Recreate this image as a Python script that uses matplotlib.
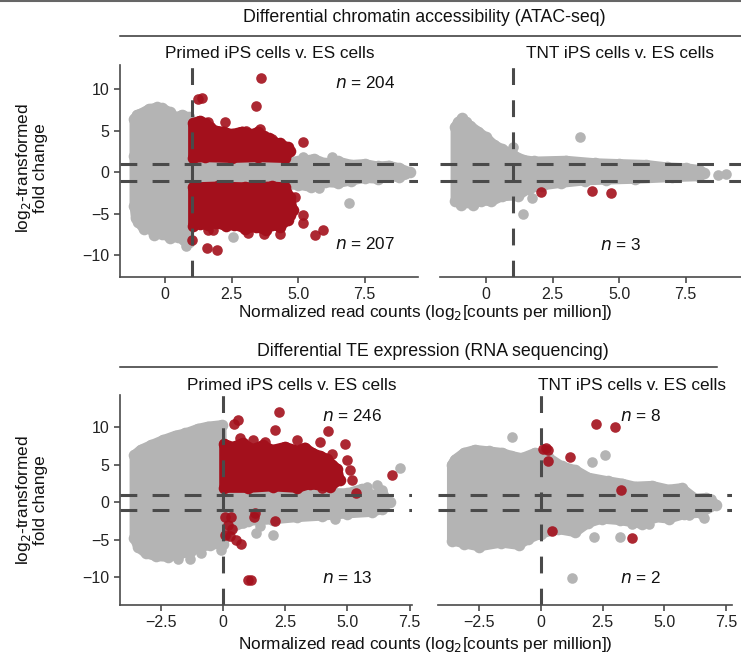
import numpy as np
import matplotlib.pyplot as plt
from matplotlib.lines import Line2D

plt.rcParams['font.family'] = ['Liberation Sans', 'DejaVu Sans']

# ---- datos ----
# arriba izquierda (ATAC, primed)
tl_gris_x = [-1.15, -1.05, -0.95, -0.6, -0.3, -0.1, 0.2, 0.4, 0.65, 0.9, 0.95, 2.0, 3.0, 4.0, 5.0,
             5.6, 6.0, 6.5, 7.0, 7.5, 8.0, 8.4, 8.8, 9.2,
             8.8, 8.4, 8.0, 7.5, 7.0, 6.5, 6.0, 5.5, 5.0, 4.0, 2.0, 0.95, 0.9, 0.7, 0.5, 0.2, -0.1,
             -0.4, -0.6, -0.8, -1.0, -1.1, -1.15, -1.15]
tl_gris_y = [6.4, 6.9, 7.0, 7.6, 7.8, 7.7, 7.2, 6.6, 6.9, 6.6, 1.6, 1.5, 1.7, 1.4, 1.3,
             1.6, 1.1, 1.3, 0.9, 1.0, 0.7, 0.8, 0.5, 0.0,
             -0.6, -0.5, -0.8, -0.7, -1.0, -1.3, -1.2, -1.8, -1.5, -1.6, -1.6, -1.6, -8.4, -8.2, -7.8,
             -7.9, -7.4, -7.5, -6.6, -6.8, -6.0, -5.5, -4.0, 2.0]
tl_pts_gris_x = [2.56, 5.2, 6.27, 6.9, 9.0, 0.8, 5.8]
tl_pts_gris_y = [-7.8, 1.8, 1.84, -3.7, -0.2, -8.9, -1.9]
tl_rojo_arriba_x = [1.05, 1.05, 1.3, 1.5, 1.7, 1.9, 2.2, 2.5, 2.9, 3.3, 3.5, 3.7, 3.9, 4.1, 4.3, 4.6,
                    4.7, 4.5, 3.5, 2.5, 1.5]
tl_rojo_arriba_y = [1.7, 5.9, 6.2, 5.9, 5.4, 5.0, 4.9, 4.6, 4.9, 4.6, 4.9, 4.3, 4.1, 3.6, 3.5, 3.0,
                    2.5, 1.7, 1.8, 1.7, 1.8]
tl_rojo_abajo_x = [1.05, 2.0, 3.0, 4.0, 4.5, 4.7, 4.8, 4.7, 4.6, 4.3, 4.0, 3.8, 3.4, 3.0, 2.6, 2.3,
                   1.9, 1.6, 1.3, 1.05]
tl_rojo_abajo_y = [-1.8, -1.7, -1.8, -1.7, -1.8, -3.0, -4.5, -5.2, -5.8, -6.6, -6.3, -7.0, -6.6, -6.8,
                   -6.3, -6.5, -6.1, -6.4, -6.2, -6.5]
tl_pts_rojo_x = [1.25, 1.4, 3.6, 3.4, 2.25, 3.05, 3.55, 5.2, 4.3, 4.0, 1.6, 2.8,
                 1.0, 1.6, 1.8, 1.57, 1.94, 5.2, 5.2, 5.64, 5.95, 3.1, 3.7, 4.3, 4.9]
tl_pts_rojo_y = [8.8, 8.9, 11.3, 8.0, 6.0, 5.0, 5.2, 3.6, 3.4, 4.0, 6.0, 4.9,
                 -8.2, -7.0, -7.0, -9.1, -9.3, -5.2, -6.1, -7.5, -7.0, -7.3, -7.4, -7.4, -3.0]

# arriba derecha (ATAC, TNT)
tr_gris_x = [-1.15, -1.15, -1.05, -0.9, -0.75, -0.6, -0.3, 0.0, 0.3, 0.6, 1.0, 1.4, 1.8, 3.0, 4.1,
             5.0, 6.0, 6.8, 7.5, 8.0, 8.2, 8.0, 7.0, 5.6, 4.5, 3.7, 2.8, 2.1, 1.6, 1.2, 0.6, 0.2,
             -0.2, -0.5, -0.7, -0.95]
tr_gris_y = [-3.4, 5.5, 6.0, 6.5, 6.0, 5.6, 4.9, 4.2, 3.3, 2.8, 2.1, 1.5, 1.3, 1.4, 1.1,
             1.0, 0.9, 0.6, 0.5, 0.3, -0.1, -0.5, -0.6, -0.8, -0.9, -1.0, -1.3, -1.6, -2.0, -2.8, -2.9,
             -3.5, -3.4, -3.9, -3.6, -3.9]
tr_pts_gris_x = [3.53, 1.72, 1.4, 8.7, 9.0, 1.0]
tr_pts_gris_y = [4.25, -3.1, -5.0, -0.3, -0.2, 3.0]
tr_pts_rojo_x = [2.07, 4.0, 4.7]
tr_pts_rojo_y = [-2.4, -2.2, -2.45]

# abajo izquierda (RNA, primed)
bl_gris_x = [-3.55, -3.55, -3.3, -2.9, -2.4, -1.9, -1.5, -1.0, -0.6, -0.05, 0.0, 1.0, 2.0, 3.0, 4.0,
             5.0, 5.6, 6.0, 6.4, 6.7, 6.4, 6.0, 5.0, 4.0, 3.0, 2.0, 1.0, 0.3, 0.0, -0.5, -0.9,
             -1.3, -1.8, -2.2, -2.7, -3.1, -3.4]
bl_gris_y = [-4.8, 6.3, 7.0, 7.6, 8.3, 8.9, 9.2, 9.8, 10.1, 10.3, 1.5, 1.6, 1.4, 1.6, 1.3,
             1.2, 1.8, 1.0, 1.2, 0.0, -0.9, -1.3, -1.5, -1.8, -2.0, -2.3, -2.5, -3.5, -5.5, -5.7, -6.0,
             -6.6, -7.0, -7.3, -7.2, -6.8, -6.0]
bl_pts_gris_x = [-0.87, -0.07, 1.34, 2.0, 0.8, 1.5, 6.2, 6.4, 7.1, 5.8, 4.5, -1.3, -1.8]
bl_pts_gris_y = [-6.8, -6.3, -4.1, -4.35, -2.8, -3.2, 2.3, 1.6, 4.6, 2.0, -2.2, -7.6, -7.5]
bl_rojo_arriba_x = [0.05, 0.05, 0.4, 0.8, 1.2, 1.6, 2.0, 2.5, 3.0, 3.3, 3.6, 3.9, 4.2, 4.4, 4.6, 4.7,
                    4.3, 3.5, 3.0, 2.0, 1.0]
bl_rojo_arriba_y = [1.9, 7.8, 7.4, 7.9, 7.1, 7.6, 7.0, 7.4, 6.9, 7.3, 6.6, 6.2, 5.8, 5.0, 4.5, 3.0,
                    2.0, 2.4, 1.9, 2.1, 1.9]
bl_pts_rojo_x = [0.45, 0.6, 2.25, 2.1, 4.23, 4.9, 4.97, 5.1, 5.2, 5.37, 4.4, 3.9, 3.0, 4.0, 6.78,
                 0.7, 1.2, 1.7,
                 0.1, 0.33, 0.2, 0.35, 0.07, 0.3, 0.53, 0.75, 1.27, 1.3, 2.1, 1.0, 1.15]
bl_pts_rojo_y = [10.5, 11.0, 12.0, 9.6, 9.5, 7.8, 5.6, 4.3, 3.0, 1.2, 6.5, 8.1, 8.3, 1.9, 3.6,
                 8.6, 8.3, 8.0,
                 -2.0, -1.9, -3.0, -3.6, -4.3, -4.5, -5.0, -5.5, -1.9, -1.4, -2.5, -10.4, -10.3]

# abajo derecha (RNA, TNT)
br_gris_x = [-3.6, -3.6, -3.47, -3.1, -2.66, -2.1, -1.58, -1.2, -0.77, -0.23, 0.3, 0.85, 1.4, 1.93,
             2.74, 3.3, 3.8, 4.5, 5.17, 5.7, 6.25, 6.7, 7.1, 6.5, 5.8, 5.17, 4.6, 4.09, 3.2, 2.47,
             1.9, 1.39, 0.7, 0.0, -0.5, -0.9, -1.6, -2.5, -3.1]
br_gris_y = [-5.1, 5.0, 5.7, 6.6, 7.0, 6.8, 6.6, 6.2, 5.9, 6.6, 6.0, 4.8, 4.3, 3.3,
             2.8, 2.5, 2.1, 2.2, 1.7, 1.9, 0.5, 0.6, -0.3, -1.4, -1.6, -2.2, -2.0, -2.9, -2.4, -2.2,
             -2.8, -4.0, -3.6, -4.2, -4.9, -5.7, -5.4, -5.9, -5.5]
br_pts_gris_x = [-1.17, 2.6, 2.06, 2.17, 3.2, 1.26, 5.98, 6.6, 6.9, 3.7, 4.4]
br_pts_gris_y = [8.7, 6.3, 5.4, -4.6, -4.6, -10.1, -1.7, -2.1, 0.4, -2.9, -2.9]
br_pts_rojo_x = [0.1, 0.3, 0.3, 1.2, 2.24, 3.0, 3.24, 0.2, 0.45, 3.71]
br_pts_rojo_y = [7.1, 7.0, 5.5, 6.1, 10.4, 10.05, 1.7, 7.3, -3.8, -4.7]

GRIS = '#b4b4b4'
ROJO = '#a3101c'
OSCURO = '#4a4a4a'
LW_NUBE = 7.0
S = 58

fig = plt.figure(figsize=(7.41, 6.57), dpi=100)

def caja(x0, y0, x1, y1):
    return [x0 / 741, 1 - y1 / 657, (x1 - x0) / 741, (y1 - y0) / 657]

def panel(pos, xlim, ylim, xticks, xlabels, vline, nubes, pts_gris, pts_rojo, eje_y):
    ax = fig.add_axes(pos)
    for nx, ny, color in nubes:
        z = 1 if color == GRIS else 1.5
        ax.fill(nx, ny, facecolor=color, edgecolor=color, linewidth=LW_NUBE,
                joinstyle='round', zorder=z)
        ax.scatter(nx, ny, s=S + 12, color=color, linewidths=0, zorder=z)
    ax.scatter(pts_gris[0], pts_gris[1], s=S, color=GRIS, linewidths=0, zorder=2)
    ax.scatter(pts_rojo[0], pts_rojo[1], s=S, color=ROJO, alpha=0.9, linewidths=0, zorder=3)
    estilo = dict(color=OSCURO, lw=2.2, linestyle=(0, (5.5, 5)), zorder=4)
    ax.axhline(1, **estilo)
    ax.axhline(-1, **estilo)
    ax.axvline(vline, **estilo)
    ax.set_xlim(xlim)
    ax.set_ylim(ylim)
    ax.set_xticks(xticks)
    ax.set_xticklabels(xlabels)
    ax.set_yticks([-10, -5, 0, 5, 10])
    ax.set_yticklabels(['\u221210', '\u22125', '0', '5', '10'])
    for lado in ['top', 'right']:
        ax.spines[lado].set_visible(False)
    for lado in ['bottom', 'left']:
        ax.spines[lado].set_color(OSCURO)
        ax.spines[lado].set_linewidth(1.2)
    ax.tick_params(colors=OSCURO, labelcolor='#222222', labelsize=11.5, length=4, width=1.2)
    if not eje_y:
        ax.spines['left'].set_visible(False)
        ax.tick_params(axis='y', left=False, labelleft=False)
    ax.patch.set_alpha(0)
    return ax

xt_a = [0, 2.5, 5, 7.5]
xl_a = ['0', '2.5', '5.0', '7.5']
xt_b = [-2.5, 0, 2.5, 5, 7.5]
xl_b = ['\u22122.5', '0', '2.5', '5.0', '7.5']

ax_tl = panel(caja(120, 65, 418, 277), (-1.69, 9.5), (-12.6, 12.9), xt_a, xl_a, 1,
              [(tl_gris_x, tl_gris_y, GRIS), (tl_rojo_arriba_x, tl_rojo_arriba_y, ROJO),
               (tl_rojo_abajo_x, tl_rojo_abajo_y, ROJO)],
              (tl_pts_gris_x, tl_pts_gris_y), (tl_pts_rojo_x, tl_pts_rojo_y), True)
ax_tr = panel(caja(440, 65, 741, 277), (-1.73, 9.58), (-12.6, 12.9), xt_a, xl_a, 1,
              [(tr_gris_x, tr_gris_y, GRIS)],
              (tr_pts_gris_x, tr_pts_gris_y), (tr_pts_rojo_x, tr_pts_rojo_y), False)
ax_bl = panel(caja(120, 395, 412, 605), (-4.13, 7.6), (-13.7, 14.3), xt_b, xl_b, 0,
              [(bl_gris_x, bl_gris_y, GRIS), (bl_rojo_arriba_x, bl_rojo_arriba_y, ROJO)],
              (bl_pts_gris_x, bl_pts_gris_y), (bl_pts_rojo_x, bl_pts_rojo_y), True)
ax_br = panel(caja(438, 395, 732, 605), (-4.16, 7.74), (-13.7, 14.3), xt_b, xl_b, 0,
              [(br_gris_x, br_gris_y, GRIS)],
              (br_pts_gris_x, br_pts_gris_y), (br_pts_rojo_x, br_pts_rojo_y), False)

# n en cada panel
txt = dict(fontsize=12.3, ha='left', va='center', color='#111111')
ax_tl.text(6.4, 10.7, '$n$ = 204', **txt)
ax_tl.text(6.4, -8.65, '$n$ = 207', **txt)
ax_tr.text(4.29, -8.8, '$n$ = 3', **txt)
ax_bl.text(4.0, 11.5, '$n$ = 246', **txt)
ax_bl.text(4.0, -10.1, '$n$ = 13', **txt)
ax_br.text(3.2, 11.5, '$n$ = 8', **txt)
ax_br.text(3.2, -10.1, '$n$ = 2', **txt)

def ftext(x, y, s, size=12.4, **kw):
    fig.text(x / 741, 1 - y / 657, s, ha='center', va='center', fontsize=size, color='#111111', **kw)

ftext(424, 18, 'Differential chromatin accessibility (ATAC-seq)', size=12.8)
ftext(433, 352, 'Differential TE expression (RNA sequencing)', size=12.8)
ftext(270, 53, 'Primed iPS cells v. ES cells')
ftext(620, 53, 'TNT iPS cells v. ES cells')
ftext(292, 385, 'Primed iPS cells v. ES cells')
ftext(632, 385, 'TNT iPS cells v. ES cells')
ftext(425, 313, 'Normalized read counts (log$_2$[counts per million])')
ftext(425, 645, 'Normalized read counts (log$_2$[counts per million])')
ftext(31, 168, 'log$_2$-transformed\nfold change', rotation=90, linespacing=1.0)
ftext(31, 500, 'log$_2$-transformed\nfold change', rotation=90, linespacing=1.0)

# lineas de encabezado
for (x0, x1, y) in [(120, 741, 36), (120, 717, 367)]:
    fig.add_artist(Line2D([x0 / 741, x1 / 741], [1 - y / 657, 1 - y / 657], color='#333333', lw=1.1))
fig.add_artist(Line2D([0, 1], [1 - 1 / 657, 1 - 1 / 657], color='#666666', lw=1.5))

fig.savefig('out.png', dpi=100)
